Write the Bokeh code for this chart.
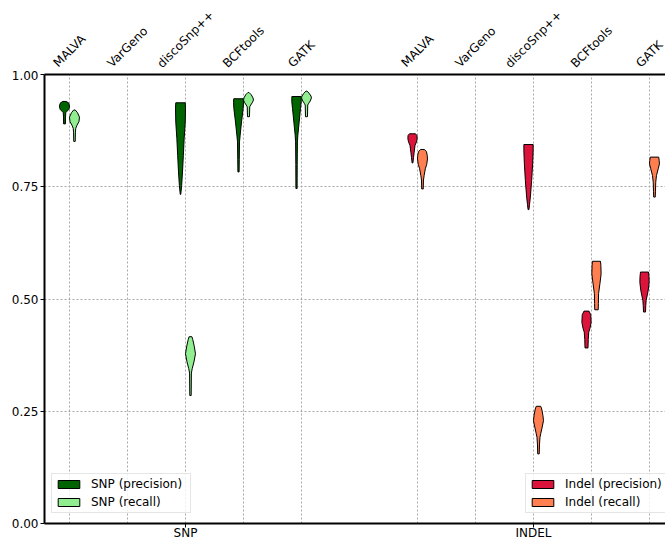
import math
from bokeh.plotting import figure
from bokeh.layouts import column
from bokeh.models import FixedTicker, LinearAxis, Legend, LegendItem, Range1d
from bokeh.core.properties import value
from bokeh.embed import file_html
from bokeh.resources import INLINE

# ---------------- data ----------------
tools = ["MALVA", "VarGeno", "discoSnp++", "BCFtools", "GATK"]
groups = ["SNP", "INDEL"]
snp_positions = [1, 2, 3, 4, 5]
indel_positions = [7, 8, 9, 10, 11]
group_positions = [3, 9]
y_ticks = [0.0, 0.25, 0.5, 0.75, 1.0]

# violin profiles: values (top -> bottom) and relative widths (0..1)
snp_precision = {
    "MALVA":      ([0.940, 0.937, 0.932, 0.927, 0.922, 0.918, 0.915, 0.905, 0.890],
                   [0.30, 0.80, 0.97, 1.00, 0.85, 0.50, 0.25, 0.20, 0.18]),
    "discoSnp++": ([0.937, 0.925, 0.894, 0.857, 0.820, 0.783, 0.753, 0.733],
                   [0.95, 1.00, 0.95, 0.73, 0.57, 0.40, 0.23, 0.05]),
    "BCFtools":   ([0.946, 0.938, 0.924, 0.894, 0.865, 0.850, 0.810, 0.783],
                   [0.95, 1.00, 0.93, 0.60, 0.33, 0.20, 0.15, 0.12]),
    "GATK":       ([0.951, 0.940, 0.924, 0.894, 0.865, 0.850, 0.800, 0.746],
                   [0.93, 0.95, 0.80, 0.53, 0.27, 0.18, 0.14, 0.12]),
}
snp_recall = {
    "MALVA":      ([0.921, 0.915, 0.905, 0.895, 0.887, 0.880, 0.870, 0.851],
                   [0.15, 0.60, 1.00, 0.90, 0.50, 0.25, 0.18, 0.15]),
    "discoSnp++": ([0.416, 0.410, 0.395, 0.378, 0.360, 0.345, 0.335, 0.285],
                   [0.28, 0.45, 0.75, 1.00, 0.70, 0.35, 0.18, 0.14]),
    "BCFtools":   ([0.960, 0.955, 0.948, 0.943, 0.937, 0.932, 0.928, 0.906],
                   [0.10, 0.55, 0.90, 1.00, 0.75, 0.45, 0.25, 0.20]),
    "GATK":       ([0.963, 0.958, 0.952, 0.948, 0.941, 0.936, 0.932, 0.906],
                   [0.10, 0.55, 0.90, 1.00, 0.75, 0.45, 0.25, 0.20]),
}
indel_precision = {
    "MALVA":      ([0.868, 0.864, 0.857, 0.850, 0.842, 0.827, 0.815, 0.803],
                   [0.60, 0.90, 0.93, 0.80, 0.50, 0.33, 0.20, 0.08]),
    "discoSnp++": ([0.844, 0.830, 0.801, 0.764, 0.727, 0.710, 0.699],
                   [0.93, 0.93, 0.83, 0.63, 0.37, 0.20, 0.08]),
    "BCFtools":   ([0.473, 0.465, 0.448, 0.435, 0.426, 0.410, 0.391],
                   [0.50, 0.85, 0.93, 0.70, 0.45, 0.35, 0.30]),
    "GATK":       ([0.560, 0.550, 0.537, 0.520, 0.511, 0.497, 0.485, 0.471],
                   [0.80, 0.90, 0.93, 0.75, 0.60, 0.33, 0.25, 0.20]),
}
indel_recall = {
    "MALVA":      ([0.833, 0.828, 0.820, 0.812, 0.800, 0.790, 0.775, 0.765, 0.745],
                   [0.40, 0.80, 0.95, 1.00, 0.85, 0.57, 0.33, 0.20, 0.15]),
    "discoSnp++": ([0.261, 0.255, 0.240, 0.229, 0.215, 0.200, 0.192, 0.175, 0.155],
                   [0.45, 0.65, 0.90, 1.00, 0.75, 0.45, 0.30, 0.20, 0.15]),
    "BCFtools":   ([0.584, 0.575, 0.556, 0.535, 0.512, 0.490, 0.476],
                   [0.80, 0.88, 0.93, 0.70, 0.42, 0.38, 0.35]),
    "GATK":       ([0.816, 0.808, 0.801, 0.790, 0.775, 0.760, 0.740, 0.727],
                   [0.85, 0.95, 1.00, 0.75, 0.40, 0.25, 0.20, 0.15]),
}

series = [
    ("SNP (precision)", snp_precision, snp_positions, -1, "#006400"),
    ("SNP (recall)", snp_recall, snp_positions, 1, "#90EE90"),
    ("Indel (precision)", indel_precision, indel_positions, -1, "#DC143C"),
    ("Indel (recall)", indel_recall, indel_positions, 1, "#FF7F50"),
]

HALF = 0.086   # half width of a violin (x units)
OFFSET = 0.086

FONT = "DejaVu Sans"
FS = 12

# approximate DejaVu Sans advance widths (units per 2048 em) for label layout
_ADV = {"M": 1767, "A": 1401, "L": 1141, "V": 1401, "a": 1255, "r": 842, "G": 1577,
        "e": 1260, "n": 1298, "o": 1253, "d": 1300, "i": 569, "s": 1067, "c": 1126,
        "S": 1300, "p": 1300, "+": 1716, "B": 1405, "C": 1430, "F": 1178, "t": 803,
        "l": 569, "T": 1251, "K": 1343}


def text_w(s):
    return sum(_ADV.get(ch, 1250) for ch in s) / 2048 * FS


X_RANGE = Range1d(0.569, 11.276)
HEADER_H = 70

# ---------------- main plot ----------------
p = figure(width=665, height=542 - HEADER_H,
           x_range=X_RANGE, y_range=Range1d(0, 1),
           output_backend="svg", toolbar_location=None,
           min_border_left=44, min_border_right=0,
           min_border_top=4, min_border_bottom=19)
p.outline_line_color = None
p.background_fill_color = "white"
p.border_fill_color = "white"

renderers = {}
for name, data, positions, side, color in series:
    xs_all, ys_all = [], []
    for tool, pos in zip(tools, positions):
        if tool not in data:
            continue
        ys, ws = data[tool]
        c = pos + side * OFFSET
        left = [c - w * HALF for w in ws]
        right = [c + w * HALF for w in ws]
        xs_all.append(left + right[::-1])
        ys_all.append(list(ys) + list(ys)[::-1])
    r = p.patches(xs_all, ys_all, fill_color=color, fill_alpha=1.0,
                  line_color="black", line_width=1)
    renderers[name] = r

yax = p.yaxis[0]
yax.ticker = FixedTicker(ticks=y_ticks)
yax.major_label_overrides = {t: f"{t:.2f}" for t in y_ticks}
xax = p.xaxis[0]
xax.ticker = FixedTicker(ticks=group_positions)
xax.major_label_overrides = {g: n for g, n in zip(group_positions, groups)}

top = LinearAxis(ticker=FixedTicker(ticks=snp_positions + indel_positions))
p.add_layout(top, "above")

for ax in [yax, xax, top]:
    ax.axis_line_color = "black"
    ax.axis_line_width = 2
    ax.major_tick_line_color = "black"
    ax.major_tick_out = 4
    ax.major_tick_in = 0
    ax.minor_tick_line_color = None
    ax.major_label_text_font = FONT
    ax.major_label_text_font_size = f"{FS}px"
    ax.major_label_text_color = "black"
    ax.major_label_standoff = 2
xax.major_label_standoff = -2
top.major_tick_out = 0
top.major_label_standoff = 0
top.major_label_text_font_size = "0px"
top.major_label_text_alpha = 0

p.xgrid.ticker = FixedTicker(ticks=snp_positions + indel_positions)
p.ygrid.ticker = FixedTicker(ticks=[0.25, 0.5, 0.75])
for g in [p.xgrid[0], p.ygrid[0]]:
    g.grid_line_color = "#a8a8a8"
    g.grid_line_dash = "2 2"
    g.grid_line_width = 1


def make_legend(names, loc):
    lg = Legend(items=[LegendItem(label=n, renderers=[renderers[n]]) for n in names],
                location=loc)
    lg.label_text_font = FONT
    lg.label_text_font_size = f"{FS}px"
    lg.label_text_color = "black"
    lg.glyph_width = 27
    lg.glyph_height = 10
    lg.label_standoff = 9
    lg.spacing = 4
    lg.padding = 3
    lg.margin = 0
    lg.label_height = 12
    lg.label_width = 96
    lg.border_line_color = "#cccccc"
    lg.border_line_width = 1
    lg.background_fill_alpha = 0.8
    return lg


p.add_layout(make_legend(["SNP (precision)", "SNP (recall)"], (7, 10)), "center")
p.add_layout(make_legend(["Indel (precision)", "Indel (recall)"], (481, 10)), "center")

# ---------------- header with the rotated tool labels ----------------
header = figure(width=665, height=HEADER_H, x_range=X_RANGE,
                y_range=Range1d(0, HEADER_H),
                output_backend="svg", toolbar_location=None,
                x_axis_location=None, y_axis_location=None,
                min_border_left=44, min_border_right=0,
                min_border_top=0, min_border_bottom=0)
header.grid.visible = False
header.outline_line_color = None
header.background_fill_color = "white"
header.border_fill_color = "white"

s2 = math.sqrt(2)
top_positions = snp_positions + indel_positions
top_labels = tools + tools
label_y = [(text_w(t) + 14) / (2 * s2) for t in top_labels]
header.text(x=top_positions, y=label_y, text=top_labels,
            angle=math.pi / 4, text_align="center", text_baseline="middle",
            text_font=value(FONT), text_font_size=value(f"{FS}px"),
            text_color="black")

layout = column(header, p, spacing=0)
open("out.html", "w").write(file_html(layout, INLINE))
